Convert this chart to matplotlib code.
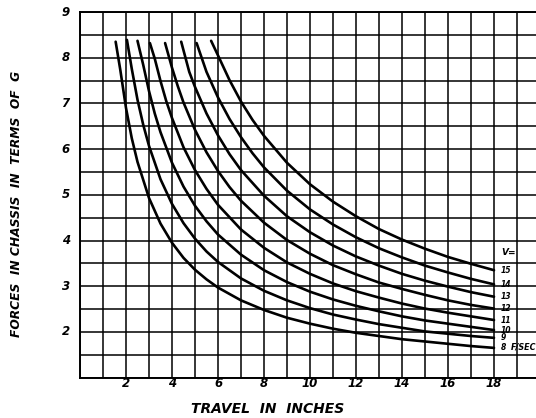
import matplotlib
matplotlib.use("Agg")
import matplotlib.pyplot as plt
from matplotlib.ticker import MultipleLocator

# ---- data ----
velocities = [8, 9, 10, 11, 12, 13, 14, 15]
label_texts = ["8", "9", "10", "11", "12", "13", "14", "15"]

travel_v8 = [1.55, 1.75, 2.0, 2.25, 2.5, 3.0, 3.5, 4.0, 4.5, 5.0, 5.5, 6.0, 7.0, 8.0, 9.0, 10.0, 11.0, 12.0, 13.0, 14.0, 15.0, 16.0, 17.0, 18.0]
force_v8 = [8.35, 7.74, 6.90, 6.24, 5.72, 4.93, 4.37, 3.95, 3.62, 3.36, 3.15, 2.97, 2.69, 2.48, 2.31, 2.18, 2.07, 1.98, 1.91, 1.84, 1.79, 1.74, 1.69, 1.65]

travel_v9 = [2.04, 2.25, 2.5, 2.75, 3.0, 3.5, 4.0, 4.5, 5.0, 5.5, 6.0, 7.0, 8.0, 9.0, 10.0, 11.0, 12.0, 13.0, 14.0, 15.0, 16.0, 17.0, 18.0]
force_v9 = [8.39, 7.76, 7.08, 6.53, 6.07, 5.34, 4.80, 4.38, 4.04, 3.76, 3.53, 3.17, 2.90, 2.69, 2.52, 2.38, 2.27, 2.17, 2.09, 2.01, 1.96, 1.91, 1.87]

travel_v10 = [2.50, 2.75, 3.0, 3.25, 3.5, 4.0, 4.5, 5.0, 5.5, 6.0, 7.0, 8.0, 9.0, 10.0, 11.0, 12.0, 13.0, 14.0, 15.0, 16.0, 17.0, 18.0]
force_v10 = [8.37, 7.84, 7.27, 6.78, 6.37, 5.70, 5.18, 4.76, 4.42, 4.13, 3.69, 3.35, 3.09, 2.88, 2.71, 2.57, 2.45, 2.34, 2.25, 2.18, 2.11, 2.04]

travel_v11 = [3.04, 3.25, 3.5, 3.75, 4.0, 4.5, 5.0, 5.5, 6.0, 7.0, 8.0, 9.0, 10.0, 11.0, 12.0, 13.0, 14.0, 15.0, 16.0, 17.0, 18.0]
force_v11 = [8.32, 7.98, 7.49, 7.05, 6.68, 6.04, 5.54, 5.13, 4.78, 4.24, 3.84, 3.52, 3.27, 3.06, 2.89, 2.75, 2.62, 2.51, 2.42, 2.34, 2.26]

travel_v12 = [3.70, 4.0, 4.25, 4.5, 5.0, 5.5, 6.0, 6.5, 7.0, 8.0, 9.0, 10.0, 11.0, 12.0, 13.0, 14.0, 15.0, 16.0, 17.0, 18.0]
force_v12 = [8.32, 7.78, 7.38, 7.02, 6.42, 5.93, 5.52, 5.17, 4.87, 4.39, 4.01, 3.71, 3.46, 3.26, 3.08, 2.94, 2.81, 2.69, 2.59, 2.51]

travel_v13 = [4.40, 4.75, 5.0, 5.5, 6.0, 6.5, 7.0, 8.0, 9.0, 10.0, 11.0, 12.0, 13.0, 14.0, 15.0, 16.0, 17.0, 18.0]
force_v13 = [8.35, 7.69, 7.36, 6.78, 6.30, 5.89, 5.54, 4.98, 4.53, 4.18, 3.89, 3.65, 3.45, 3.27, 3.12, 2.99, 2.87, 2.77]

travel_v14 = [5.07, 5.5, 6.0, 6.5, 7.0, 7.5, 8.0, 9.0, 10.0, 11.0, 12.0, 13.0, 14.0, 15.0, 16.0, 17.0, 18.0]
force_v14 = [8.32, 7.69, 7.13, 6.66, 6.26, 5.91, 5.60, 5.09, 4.68, 4.35, 4.07, 3.83, 3.63, 3.45, 3.30, 3.16, 3.04]

travel_v15 = [5.70, 6.0, 6.5, 7.0, 7.5, 8.0, 9.0, 10.0, 11.0, 12.0, 13.0, 14.0, 15.0, 16.0, 17.0, 18.0]
force_v15 = [8.37, 8.05, 7.51, 7.04, 6.64, 6.29, 5.70, 5.23, 4.85, 4.53, 4.25, 4.02, 3.82, 3.64, 3.49, 3.35]

travels = [travel_v8, travel_v9, travel_v10, travel_v11, travel_v12, travel_v13, travel_v14, travel_v15]
forces = [force_v8, force_v9, force_v10, force_v11, force_v12, force_v13, force_v14, force_v15]

x_ticks = [2, 4, 6, 8, 10, 12, 14, 16, 18]
y_ticks = [2, 3, 4, 5, 6, 7, 8, 9]

# ---- figure ----
W, H = 536, 418
fig = plt.figure(figsize=(W / 100, H / 100), dpi=100)
left_px, right_px, top_px, bottom_px = 80, 536, 12, 377.6
ax = fig.add_axes([left_px / W, 1 - bottom_px / H, (right_px - left_px) / W, (bottom_px - top_px) / H])
ax.set_xlim(0, (right_px - left_px) / 23.0)
ax.set_ylim(1, 9)

font = dict(family="DejaVu Sans", style="italic", weight="bold")

ax.xaxis.set_major_locator(MultipleLocator(1))
ax.yaxis.set_major_locator(MultipleLocator(0.5))
ax.grid(True, which="major", color="black", linewidth=1.1)
ax.set_axisbelow(True)
ax.tick_params(length=0, labelbottom=False, labelleft=False)

for s in ["left", "bottom", "top"]:
    ax.spines[s].set_linewidth(1.4)
ax.spines["right"].set_visible(False)

for xt in x_ticks:
    ax.text(xt, 0.86, str(xt), ha="center", va="center", fontsize=8.5, **font)
for yt in y_ticks:
    ax.text(-0.45, yt, str(yt), ha="right", va="center", fontsize=8.5, **font)

for tr, fo in zip(travels, forces):
    ax.plot(tr, fo, color="black", linewidth=1.9, solid_capstyle="round", solid_joinstyle="round")

for tr, fo, lab in zip(travels, forces, label_texts):
    ax.text(tr[-1] + 0.28, fo[-1], lab, ha="left", va="center", fontsize=5.5, **font)
ax.text(18.3, 3.73, "V=", ha="left", va="center", fontsize=6.5, **font)
ax.text(18.72, 1.67, "F/SEC", ha="left", va="center", fontsize=5.8, **font)

fig.text(268 / W, 1 - 409 / H, "TRAVEL  IN  INCHES", ha="center", va="center", fontsize=10, **font)
fig.text(17 / W, 1 - 204 / H, "FORCES  IN CHASSIS  IN  TERMS  OF  G", ha="center", va="center",
         rotation=90, fontsize=8.8, **font)

fig.savefig("out.png", dpi=100, facecolor="white")
